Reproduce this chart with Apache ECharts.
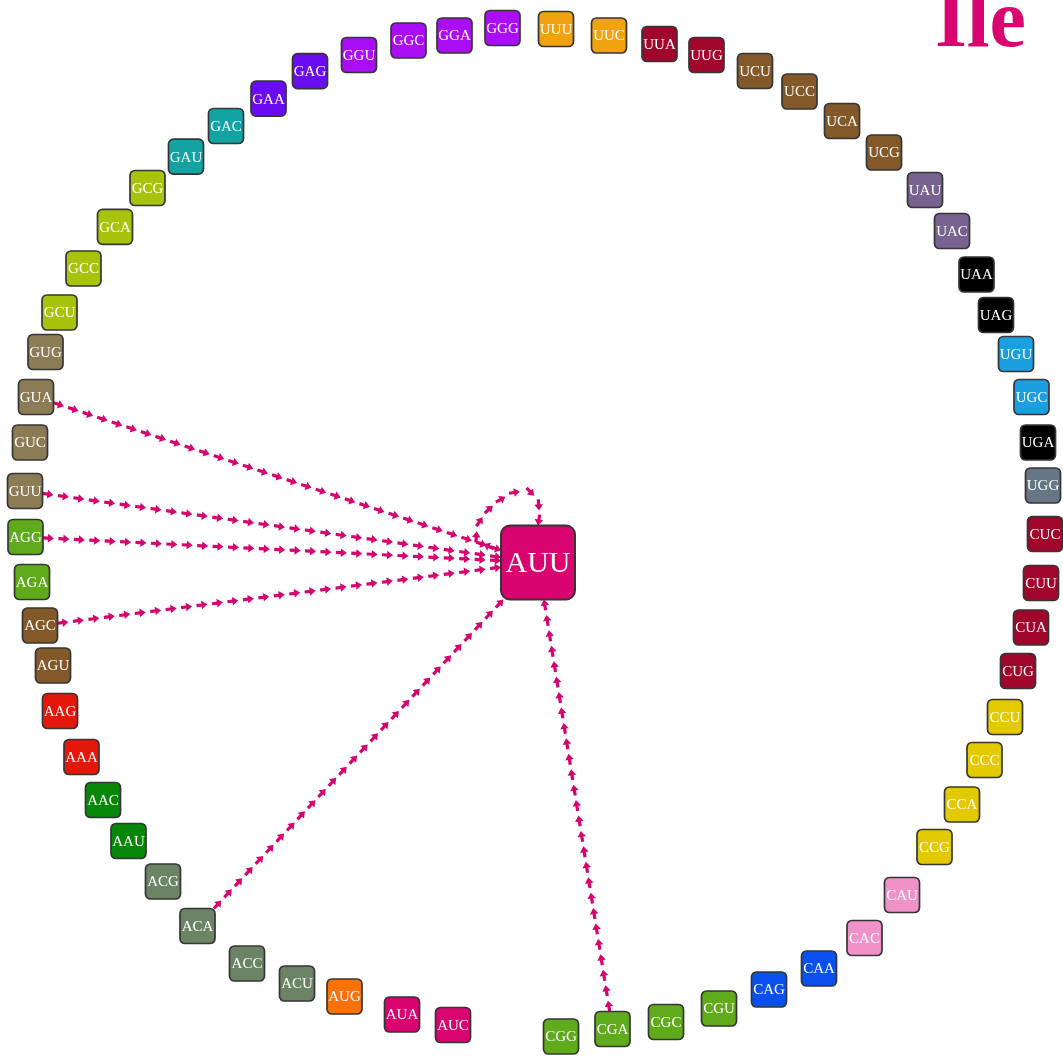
<!DOCTYPE html>
<html>
<head>
<meta charset="utf-8">
<title>Ile</title>
<script src="https://cdn.jsdelivr.net/npm/echarts@6/dist/echarts.min.js"></script>
<style>
  html, body { margin: 0; padding: 0; background: #fff; }
  #chart { width: 1063px; height: 1056px; }
</style>
</head>
<body>
<div id="chart"></div>
<script>
// codons in ring order (clockwise from the top), AUU pulled into the middle
var codons = ['UUU', 'UUC', 'UUA', 'UUG', 'UCU', 'UCC', 'UCA', 'UCG', 'UAU', 'UAC', 'UAA', 'UAG', 'UGU', 'UGC', 'UGA', 'UGG',
    'CUC', 'CUU', 'CUA', 'CUG', 'CCU', 'CCC', 'CCA', 'CCG', 'CAU', 'CAC', 'CAA', 'CAG', 'CGU', 'CGC', 'CGA', 'CGG',
    'AUU', 'AUC', 'AUA', 'AUG', 'ACU', 'ACC', 'ACA', 'ACG', 'AAU', 'AAC', 'AAA', 'AAG', 'AGU', 'AGC', 'AGA', 'AGG',
    'GUU', 'GUC', 'GUA', 'GUG', 'GCU', 'GCC', 'GCA', 'GCG', 'GAU', 'GAC', 'GAA', 'GAG', 'GGU', 'GGC', 'GGA', 'GGG']
var aminoAcids = ['Phe', 'Phe', 'Leu', 'Leu', 'Ser', 'Ser', 'Ser', 'Ser', 'Tyr', 'Tyr', 'Stop', 'Stop', 'Cys', 'Cys', 'Stop', 'Trp',
    'Leu', 'Leu', 'Leu', 'Leu', 'Pro', 'Pro', 'Pro', 'Pro', 'His', 'His', 'Gln', 'Gln', 'Arg', 'Arg', 'Arg', 'Arg',
    'Ile', 'Ile', 'Ile', 'Met', 'Thr', 'Thr', 'Thr', 'Thr', 'Asn', 'Asn', 'Lys', 'Lys', 'Ser', 'Ser', 'Arg', 'Arg',
    'Val', 'Val', 'Val', 'Val', 'Ala', 'Ala', 'Ala', 'Ala', 'Asp', 'Asp', 'Glu', 'Glu', 'Gly', 'Gly', 'Gly', 'Gly']
// node layout positions (layout units, y grows downward)
var nodeX = [556, 609, 659.5, 706.5, 755, 799.5, 842, 884, 925, 952, 976.5, 996, 1016, 1031.5, 1038, 1043,
    1045, 1041, 1031, 1018, 1005, 984.5, 962, 934.5, 902, 864.5, 819, 769, 719, 666, 612.5, 561,
    538, 453, 402, 344.5, 297, 247, 197.5, 163, 128.5, 103, 81.5, 60, 53, 40, 32, 25.5,
    25, 30, 36, 45.5, 59.5, 83.5, 115, 147.5, 186, 226, 268.5, 310, 359, 408.5, 454.5, 502.5]
var nodeY = [29, 35.5, 44, 55, 71, 91.5, 121, 152.5, 190, 231, 274.5, 315, 354, 397, 442.5, 485.5,
    534, 583, 627.5, 671, 717, 760, 804.5, 847, 895, 938, 968.5, 989.5, 1008.5, 1022, 1029, 1036.5,
    562.5, 1025, 1014.5, 996.5, 983.5, 963.5, 926, 881.5, 841, 800, 757, 711, 665.5, 625.5, 582, 537,
    491, 442.5, 397, 352, 312.5, 268.5, 226.8, 188, 156.6, 126, 98.6, 71.2, 55, 40.5, 35.5, 28]
// edges: every source points at the focus codon (AUU also loops on itself)
var edgeSources = ['GUA', 'GUU', 'AGG', 'AGC', 'ACA', 'CGA', 'AUU']
var edgeTarget = 'AUU'
var titleText = 'Ile'

var aaColors = {
    Phe: '#f1a30f', Leu: '#a0062b', Ser: '#84592a', Tyr: '#786290', Stop: '#000000',
    Cys: '#1b9fe0', Trp: '#677685', Pro: '#e3c900', His: '#f091c8', Gln: '#0a50ee',
    Arg: '#5fab1b', Ile: '#d9046f', Met: '#f87208', Thr: '#6c8466', Asn: '#078707',
    Lys: '#e3170a', Val: '#8b7c55', Ala: '#a8c30c', Asp: '#12a3a3', Glu: '#6a0cf2', Gly: '#a90ef6'
}
var edgeColor = '#d6036e'
var smallSize = 35
var bigSize = 74
var arrowStep = 15.5
var arrowLen = 11

var chart = echarts.init(document.getElementById('chart'))

function sizeOf (codon) {
    return codon === edgeTarget ? bigSize : smallSize
}

// one little arrow, tip at (tx, ty), pointing along (ux, uy)
function arrowShape (tx, ty, ux, uy) {
    var px = -uy
    var py = ux
    var pts = [[0, 0], [-6, 4.3], [-6, 1.6], [-arrowLen, 1.6], [-arrowLen, -1.6], [-6, -1.6], [-6, -4.3]]
    return {
        type: 'polygon',
        shape: {points: pts.map(function (p) { return [tx + p[0] * ux + p[1] * px, ty + p[0] * uy + p[1] * py] })},
        style: {fill: edgeColor}
    }
}

var nodeData = codons.map(function (c, i) { return [nodeX[i], nodeY[i], i] })
var ti = codons.indexOf(edgeTarget)
var edgeData = edgeSources.map(function (s) {
    var si = codons.indexOf(s)
    return [nodeX[si], nodeY[si], nodeX[ti], nodeY[ti], si === ti ? 1 : 0]
})

function renderEdge (params, api) {
    var a = api.coord([api.value(0), api.value(1)])
    var b = api.coord([api.value(2), api.value(3)])
    var children = []
    if (api.value(4) === 1) {
        // self loop: a bezier leaving the left side, landing on the top
        var p0 = [b[0] - 38, b[1] - 15]
        var p1 = [b[0] - 112, b[1] - 18]
        var p2 = [b[0] + 14, b[1] - 124]
        var p3 = [b[0], b[1] - bigSize / 2]
        var pts = []
        for (var k = 0; k <= 400; k++) {
            var t = k / 400
            var m = 1 - t
            pts.push([
                m * m * m * p0[0] + 3 * m * m * t * p1[0] + 3 * m * t * t * p2[0] + t * t * t * p3[0],
                m * m * m * p0[1] + 3 * m * m * t * p1[1] + 3 * m * t * t * p2[1] + t * t * t * p3[1]
            ])
        }
        var len = [0]
        for (k = 1; k < pts.length; k++) {
            len.push(len[k - 1] + Math.hypot(pts[k][0] - pts[k - 1][0], pts[k][1] - pts[k - 1][1]))
        }
        var total = len[len.length - 1]
        var j = pts.length - 1
        for (var d = total; d >= arrowLen; d -= arrowStep) {
            while (j > 1 && len[j - 1] >= d) j--
            var q0 = pts[Math.max(j - 3, 0)]
            var q1 = pts[j]
            var dl = Math.hypot(q1[0] - q0[0], q1[1] - q0[1])
            children.push(arrowShape(q1[0], q1[1], (q1[0] - q0[0]) / dl, (q1[1] - q0[1]) / dl))
        }
    } else {
        var dx = b[0] - a[0]
        var dy = b[1] - a[1]
        var L = Math.hypot(dx, dy)
        var ux = dx / L
        var uy = dy / L
        var m2 = Math.max(Math.abs(ux), Math.abs(uy))
        var startOff = (smallSize / 2) / m2
        var endOff = (bigSize / 2) / m2
        var sx = a[0] + ux * startOff
        var sy = a[1] + uy * startOff
        var run = L - startOff - endOff
        // spread the arrows so the first one sits on the source box
        var n = Math.round((run - arrowLen) / arrowStep)
        var step = (run - arrowLen) / n
        for (var s = 0; s <= n; s++) {
            var pos = arrowLen + s * step
            children.push(arrowShape(sx + ux * pos, sy + uy * pos, ux, uy))
        }
    }
    return {type: 'group', children: children}
}

function renderNode (params, api) {
    var p = api.coord([api.value(0), api.value(1)])
    var i = api.value(2)
    var codon = codons[i]
    var size = sizeOf(codon)
    var big = size === bigSize
    return {
        type: 'group',
        children: [{
            type: 'rect',
            shape: {x: p[0] - size / 2, y: p[1] - size / 2, width: size, height: size, r: big ? 9 : 5},
            style: {fill: aaColors[aminoAcids[i]], stroke: '#363636', lineWidth: big ? 2 : 1.7}
        }, {
            type: 'text',
            style: {
                text: codon,
                x: p[0],
                y: p[1] + (big ? 2 : 1),
                fill: '#ffffff',
                font: (big ? 30 : 15) + 'px "Liberation Serif", "DejaVu Serif", serif',
                align: 'center',
                verticalAlign: 'middle'
            }
        }]
    }
}

chart.setOption({
    animation: false,
    backgroundColor: '#ffffff',
    title: {
        text: titleText,
        right: 37,
        top: -16,
        padding: 0,
        textStyle: {
            fontFamily: 'Liberation Serif',
            fontWeight: 'bold',
            fontSize: 82,
            color: '#d9046f'
        }
    },
    grid: {left: 0, right: 0, top: 0, bottom: 0},
    xAxis: {type: 'value', min: 0, max: 1063, show: false},
    yAxis: {type: 'value', min: 0, max: 1056, inverse: true, show: false},
    series: [{
        type: 'custom',
        name: 'edges',
        z: 1,
        clip: false,
        encode: {x: [0, 2], y: [1, 3]},
        renderItem: renderEdge,
        data: edgeData
    }, {
        type: 'custom',
        name: 'codons',
        z: 2,
        clip: false,
        encode: {x: 0, y: 1},
        renderItem: renderNode,
        data: nodeData
    }]
})
</script>
</body>
</html>
